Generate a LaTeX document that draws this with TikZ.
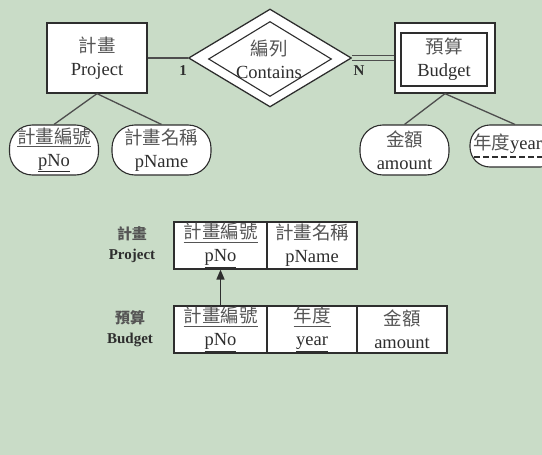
\documentclass[tikz,border=0pt]{standalone}
\usepackage{fontspec}
\setmainfont{Liberation Serif}
\newfontfamily\cjk{Noto Sans CJK TC}
\usetikzlibrary{shapes.geometric,arrows.meta}
\definecolor{bg}{HTML}{C9DCC7}
\definecolor{ink}{HTML}{2E2E2E}
\definecolor{zhink}{HTML}{555555}
\newcommand\zh[1]{{\cjk\color{zhink}#1}}
\newcommand\uln[1]{\underline{#1}}
\begin{document}
\begin{tikzpicture}[x=1pt,y=-1pt,
  txt/.style={font=\fontsize{18.5}{23}\selectfont, align=center, text=ink, inner sep=0pt},
  entity/.style={txt, draw=ink, line width=1.3pt, fill=white, minimum width=100pt, minimum height=70pt},
  attr/.style={txt, rectangle, rounded corners=23pt, draw=ink, line width=1.1pt, fill=white, minimum width=89pt, minimum height=50pt},
  link/.style={draw=ink!85, line width=1.3pt},
  cell/.style={txt, draw=ink, line width=1.2pt, fill=white, minimum height=47pt},
  card/.style={font=\bfseries\fontsize{15}{15}\selectfont, text=ink, inner sep=0pt},
  tlabel/.style={font=\bfseries\fontsize{15}{20}\selectfont, align=center, text=ink, inner sep=0pt}
]
% background
\fill[bg] (0,0) rectangle (542,455);
\useasboundingbox (0,0) rectangle (542,455);
\clip (0,0) rectangle (542,455);

% ---- ER diagram ----
\node[entity] (proj) at (97,58) {\zh{計畫}\\Project};
\node[entity] (bud) at (445,58) {};
\node[txt, draw=ink, line width=1.1pt, minimum width=86pt, minimum height=53pt] (budin) at (444,59.5) {\zh{預算}\\Budget};

% identifying relationship: double diamond
\node[diamond, draw=ink, line width=1.3pt, fill=white, minimum width=163pt, minimum height=98pt, inner sep=0pt] (rel) at (270,58) {};
\node[diamond, draw=ink, line width=1.1pt, minimum width=123pt, minimum height=75pt, inner sep=0pt] (relin) at (270,59) {};
\node[txt] (reltxt) at (269,59) {\zh{編列}\\Contains};

\draw[link] (proj.east) -- (rel.west);
\draw[link, line width=1.1pt, double=bg, double distance=3.5pt] (rel.east) -- (bud.west);
\node[card] (c1) at (183,71) {1};
\node[card] (cN) at (359,71) {N};

\node[attr] (pno) at (54,150) {\zh{\uln{計畫編號}}\\\uln{pNo}};
\node[attr, minimum width=99pt] (pname) at (161.5,150) {\zh{計畫名稱}\\pName};
\node[attr] (amt) at (404.5,150) {\zh{金額}\\amount};
\node[attr, rounded corners=20pt, minimum width=90pt, minimum height=42pt] (year) at (515,146) {};
\node[txt, anchor=west] (yeartxt) at (473,144) {\zh{年度}year};
\coordinate (yl) at (474,157);
\coordinate (yr) at (545,157);
\draw[dash pattern=on 6pt off 3pt, ink, line width=1.3pt] (yl) -- (yr);

\draw[link] (proj.south) -- (pno.north);
\draw[link] (proj.south) -- (pname.north);
\draw[link] (bud.south) -- (amt.north);
\draw[link] (bud.south) -- (year.north);

% ---- relational schema ----
\node[tlabel] (lp) at (132,245) {\zh{計畫}\\Project};
\node[cell, minimum width=93pt] (tp1) at (220.5,245.5) {\zh{\uln{計畫編號}}\\\uln{pNo}};
\node[cell, minimum width=90pt] (tp2) at (312,245.5) {\zh{計畫名稱}\\pName};

\node[tlabel] (lb) at (130,329) {\zh{預算}\\Budget};
\node[cell, minimum width=93pt] (tb1) at (220.5,329.5) {\zh{\uln{計畫編號}}\\\uln{pNo}};
\node[cell, minimum width=90pt] (tb2) at (312,329.5) {\zh{\uln{年度}}\\\uln{year}};
\node[cell, minimum width=90pt] (tb3) at (402,329.5) {\zh{金額}\\amount};

% foreign key reference
\draw[draw=ink, line width=1.6pt, -{Triangle[length=10pt,width=8pt]}] (tb1.north) -- (tp1.south);
\end{tikzpicture}
\end{document}
